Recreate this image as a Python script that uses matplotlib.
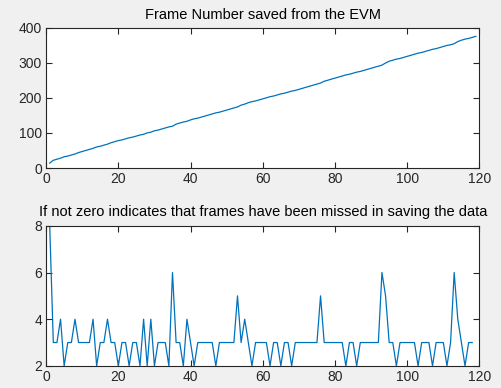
import numpy as np
import matplotlib
matplotlib.use("Agg")
import matplotlib.pyplot as plt

# frame number read back from the EVM, one per saved file
frame_idx = list(range(1, 120))
frame_num = [14, 22, 25, 28, 32, 34, 37, 40, 44, 47,
             50, 53, 56, 60, 62, 65, 68, 72, 75, 78,
             80, 83, 86, 88, 91, 94, 96, 100, 102, 106,
             108, 111, 114, 117, 119, 125, 128, 131, 133, 137,
             140, 142, 145, 148, 151, 154, 157, 159, 162, 165,
             168, 171, 174, 179, 182, 186, 189, 191, 194, 197,
             200, 203, 205, 208, 211, 213, 216, 219, 221, 224,
             227, 230, 233, 236, 239, 242, 247, 250, 253, 256,
             259, 262, 265, 267, 270, 273, 275, 278, 281, 284,
             287, 290, 293, 299, 304, 307, 310, 312, 315, 318,
             321, 324, 327, 329, 332, 335, 338, 340, 343, 346,
             349, 351, 354, 360, 364, 367, 369, 372, 375]

# step between consecutive frame numbers
step_idx = list(range(1, 119))
step = [8, 3, 3, 4, 2, 3, 3, 4, 3, 3,
        3, 3, 4, 2, 3, 3, 4, 3, 3, 2,
        3, 3, 2, 3, 3, 2, 4, 2, 4, 2,
        3, 3, 3, 2, 6, 3, 3, 2, 4, 3,
        2, 3, 3, 3, 3, 3, 2, 3, 3, 3,
        3, 3, 5, 3, 4, 3, 2, 3, 3, 3,
        3, 2, 3, 3, 2, 3, 3, 2, 3, 3,
        3, 3, 3, 3, 3, 5, 3, 3, 3, 3,
        3, 3, 2, 3, 3, 2, 3, 3, 3, 3,
        3, 3, 6, 5, 3, 3, 2, 3, 3, 3,
        3, 3, 2, 3, 3, 3, 2, 3, 3, 3,
        2, 3, 6, 4, 3, 2, 3, 3]

LINE = "#0072BD"
DARK = "#262626"

plt.rcParams["font.family"] = ["Liberation Sans", "DejaVu Sans"]

fig = plt.figure(figsize=(5.01, 3.88), dpi=100, facecolor="#F0F0F0")
ax1 = fig.add_axes([0.092, 0.567, 0.865, 0.362])
ax2 = fig.add_axes([0.092, 0.057, 0.865, 0.361])


def matlab_style(ax):
    ax.set_facecolor("white")
    for s in ax.spines.values():
        s.set_color(DARK)
        s.set_linewidth(0.8)
    ax.tick_params(direction="in", length=4, width=0.8, color=DARK,
                   labelcolor=DARK, labelsize=10, top=True, right=True, pad=3)


ax1.plot(frame_idx, frame_num, color=LINE, linewidth=0.9)
ax1.set_xlim(0, 120)
ax1.set_ylim(0, 400)
ax1.set_xticks(np.arange(0, 121, 20))
ax1.set_yticks(np.arange(0, 401, 100))
ax1.set_title("Frame Number saved from the EVM", fontsize=10.5, color="black", pad=6)
matlab_style(ax1)

ax2.plot(step_idx, step, color=LINE, linewidth=0.9)
ax2.set_xlim(0, 120)
ax2.set_ylim(2, 8)
ax2.set_xticks(np.arange(0, 121, 20))
ax2.set_yticks([2, 4, 6, 8])
ax2.set_title("If not zero indicates that frames have been missed in saving the data",
              fontsize=10.5, color="black", pad=7)
matlab_style(ax2)

fig.savefig("out.png", dpi=100, facecolor=fig.get_facecolor())
plt.close(fig)
